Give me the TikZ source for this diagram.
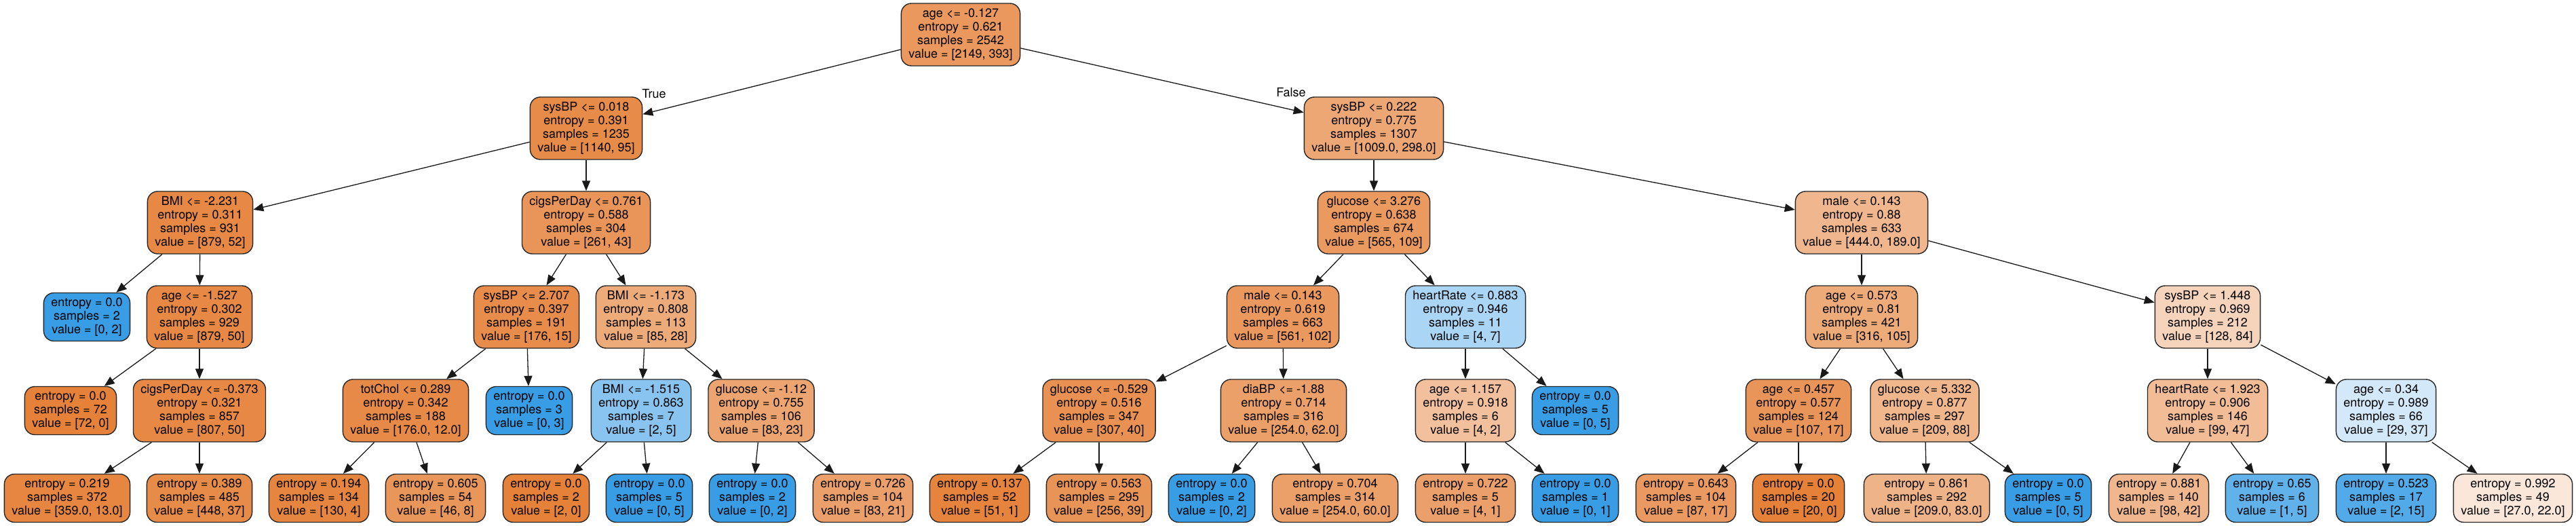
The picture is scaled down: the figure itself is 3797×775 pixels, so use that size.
\documentclass[tikz,border=0pt]{standalone}
\usepackage{fontspec}
\setmainfont{TeX Gyre Heros}
\usetikzlibrary{arrows.meta}
\definecolor{clsO}{RGB}{229,129,57}
\definecolor{clsB}{RGB}{57,157,229}
\tikzset{
  tbox/.style={draw=black!85, line width=1.4pt, rounded corners=15pt,
    font=\fontsize{18}{20}\selectfont, align=center, inner xsep=11pt, inner ysep=0pt},
  dnode/.style={tbox, minimum height=92pt},
  lnode/.style={tbox, minimum height=71pt},
  edgearrow/.style={-{Triangle[length=15pt,width=12pt]}, line width=1.3pt, draw=black!90},
  elabel/.style={font=\fontsize{18}{20}\selectfont, inner sep=0pt}
}
\begin{document}
\begin{tikzpicture}[x=1pt,y=-1pt]
\useasboundingbox (0,0) rectangle (3797,775);
% level 0
\node[dnode, fill=clsO!82!white] (n0) at (1416,51) {age <= -0.127\\entropy = 0.621\\samples = 2542\\value = [2149, 393]};
% level 1
\node[dnode, fill=clsO!92!white] (n1) at (864,189) {sysBP <= 0.018\\entropy = 0.391\\samples = 1235\\value = [1140, 95]};
\node[dnode, fill=clsO!70!white] (n2) at (2025,189) {sysBP <= 0.222\\entropy = 0.775\\samples = 1307\\value = [1009.0, 298.0]};
% level 2
\node[dnode, fill=clsO!94!white] (n3) at (295,328) {BMI <= -2.231\\entropy = 0.311\\samples = 931\\value = [879, 52]};
\node[dnode, fill=clsO!84!white] (n4) at (864,328) {cigsPerDay <= 0.761\\entropy = 0.588\\samples = 304\\value = [261, 43]};
\node[dnode, fill=clsO!81!white] (n5) at (2025,328) {glucose <= 3.276\\entropy = 0.638\\samples = 674\\value = [565, 109]};
\node[dnode, fill=clsO!57!white] (n6) at (2744,328) {male <= 0.143\\entropy = 0.88\\samples = 633\\value = [444.0, 189.0]};
% level 3
\node[lnode, fill=clsB] (n7) at (128,467) {entropy = 0.0\\samples = 2\\value = [0, 2]};
\node[dnode, fill=clsO!94!white] (n8) at (294,467) {age <= -1.527\\entropy = 0.302\\samples = 929\\value = [879, 50]};
\node[dnode, fill=clsO!91!white] (n9) at (776,467) {sysBP <= 2.707\\entropy = 0.397\\samples = 191\\value = [176, 15]};
\node[dnode, fill=clsO!67!white] (n10) at (952,467) {BMI <= -1.173\\entropy = 0.808\\samples = 113\\value = [85, 28]};
\node[dnode, fill=clsO!82!white] (n11) at (1891,467) {male <= 0.143\\entropy = 0.619\\samples = 663\\value = [561, 102]};
\node[dnode, fill=clsB!43!white] (n12) at (2160,467) {heartRate <= 0.883\\entropy = 0.946\\samples = 11\\value = [4, 7]};
\node[dnode, fill=clsO!67!white] (n13) at (2744,467) {age <= 0.573\\entropy = 0.81\\samples = 421\\value = [316, 105]};
\node[dnode, fill=clsO!34!white] (n14) at (3254,467) {sysBP <= 1.448\\entropy = 0.969\\samples = 212\\value = [128, 84]};
% level 4
\node[lnode, fill=clsO] (n15) at (104,605) {entropy = 0.0\\samples = 72\\value = [72, 0]};
\node[dnode, fill=clsO!94!white] (n16) at (294,605) {cigsPerDay <= -0.373\\entropy = 0.321\\samples = 857\\value = [807, 50]};
\node[dnode, fill=clsO!93!white] (n17) at (598,605) {totChol <= 0.289\\entropy = 0.342\\samples = 188\\value = [176.0, 12.0]};
\node[lnode, fill=clsB] (n18) at (780,605) {entropy = 0.0\\samples = 3\\value = [0, 3]};
\node[dnode, fill=clsB!60!white] (n19) at (945,605) {BMI <= -1.515\\entropy = 0.863\\samples = 7\\value = [2, 5]};
\node[dnode, fill=clsO!72!white] (n20) at (1122,605) {glucose <= -1.12\\entropy = 0.755\\samples = 106\\value = [83, 23]};
\node[dnode, fill=clsO!87!white] (n21) at (1620,605) {glucose <= -0.529\\entropy = 0.516\\samples = 347\\value = [307, 40]};
\node[dnode, fill=clsO!76!white] (n22) at (1892,605) {diaBP <= -1.88\\entropy = 0.714\\samples = 316\\value = [254.0, 62.0]};
\node[dnode, fill=clsO!50!white] (n23) at (2160,605) {age <= 1.157\\entropy = 0.918\\samples = 6\\value = [4, 2]};
\node[lnode, fill=clsB] (n24) at (2322,605) {entropy = 0.0\\samples = 5\\value = [0, 5]};
\node[dnode, fill=clsO!84!white] (n25) at (2651,605) {age <= 0.457\\entropy = 0.577\\samples = 124\\value = [107, 17]};
\node[dnode, fill=clsO!58!white] (n26) at (2837,605) {glucose <= 5.332\\entropy = 0.877\\samples = 297\\value = [209, 88]};
\node[dnode, fill=clsO!53!white] (n27) at (3254,605) {heartRate <= 1.923\\entropy = 0.906\\samples = 146\\value = [99, 47]};
\node[dnode, fill=clsB!22!white] (n28) at (3517,605) {age <= 0.34\\entropy = 0.989\\samples = 66\\value = [29, 37]};
% level 5
\node[lnode, fill=clsO!96!white] (n29) at (99,734) {entropy = 0.219\\samples = 372\\value = [359.0, 13.0]};
\node[lnode, fill=clsO!92!white] (n30) at (294,734) {entropy = 0.389\\samples = 485\\value = [448, 37]};
\node[lnode, fill=clsO!97!white] (n31) at (470,734) {entropy = 0.194\\samples = 134\\value = [130, 4]};
\node[lnode, fill=clsO!83!white] (n32) at (642,734) {entropy = 0.605\\samples = 54\\value = [46, 8]};
\node[lnode, fill=clsO] (n33) at (805,734) {entropy = 0.0\\samples = 2\\value = [2, 0]};
\node[lnode, fill=clsB] (n34) at (957,734) {entropy = 0.0\\samples = 5\\value = [0, 5]};
\node[lnode, fill=clsB] (n35) at (1109,734) {entropy = 0.0\\samples = 2\\value = [0, 2]};
\node[lnode, fill=clsO!75!white] (n36) at (1272,734) {entropy = 0.726\\samples = 104\\value = [83, 21]};
\node[lnode, fill=clsO!98!white] (n37) at (1444,734) {entropy = 0.137\\samples = 52\\value = [51, 1]};
\node[lnode, fill=clsO!85!white] (n38) at (1620,734) {entropy = 0.563\\samples = 295\\value = [256, 39]};
\node[lnode, fill=clsB] (n39) at (1786,734) {entropy = 0.0\\samples = 2\\value = [0, 2]};
\node[lnode, fill=clsO!76!white] (n40) at (1968,734) {entropy = 0.704\\samples = 314\\value = [254.0, 60.0]};
\node[lnode, fill=clsO!75!white] (n41) at (2160,734) {entropy = 0.722\\samples = 5\\value = [4, 1]};
\node[lnode, fill=clsB] (n42) at (2322,734) {entropy = 0.0\\samples = 1\\value = [0, 1]};
\node[lnode, fill=clsO!80!white] (n43) at (2485,734) {entropy = 0.643\\samples = 104\\value = [87, 17]};
\node[lnode, fill=clsO] (n44) at (2651,734) {entropy = 0.0\\samples = 20\\value = [20, 0]};
\node[lnode, fill=clsO!60!white] (n45) at (2840,734) {entropy = 0.861\\samples = 292\\value = [209.0, 83.0]};
\node[lnode, fill=clsB] (n46) at (3019,734) {entropy = 0.0\\samples = 5\\value = [0, 5]};
\node[lnode, fill=clsO!57!white] (n47) at (3182,734) {entropy = 0.881\\samples = 140\\value = [98, 42]};
\node[lnode, fill=clsB!80!white] (n48) at (3349,734) {entropy = 0.65\\samples = 6\\value = [1, 5]};
\node[lnode, fill=clsB!87!white] (n49) at (3517,734) {entropy = 0.523\\samples = 17\\value = [2, 15]};
\node[lnode, fill=clsO!19!white] (n50) at (3704,734) {entropy = 0.992\\samples = 49\\value = [27.0, 22.0]};
% edge labels
\node[elabel] (lt) at (964,138) {True};
\node[elabel] (lf) at (1903,136) {False};
% edges
\foreach \a/\b in {n0/n1,n0/n2,n1/n3,n1/n4,n2/n5,n2/n6,
  n3/n7,n3/n8,n4/n9,n4/n10,n5/n11,n5/n12,n6/n13,n6/n14,
  n8/n15,n8/n16,n9/n17,n9/n18,n10/n19,n10/n20,n11/n21,n11/n22,
  n12/n23,n12/n24,n13/n25,n13/n26,n14/n27,n14/n28,
  n16/n29,n16/n30,n17/n31,n17/n32,n19/n33,n19/n34,n20/n35,n20/n36,
  n21/n37,n21/n38,n22/n39,n22/n40,n23/n41,n23/n42,n25/n43,n25/n44,
  n26/n45,n26/n46,n27/n47,n27/n48,n28/n49,n28/n50}
  {\draw[edgearrow] (\a) -- (\b);}
\end{tikzpicture}
\end{document}
